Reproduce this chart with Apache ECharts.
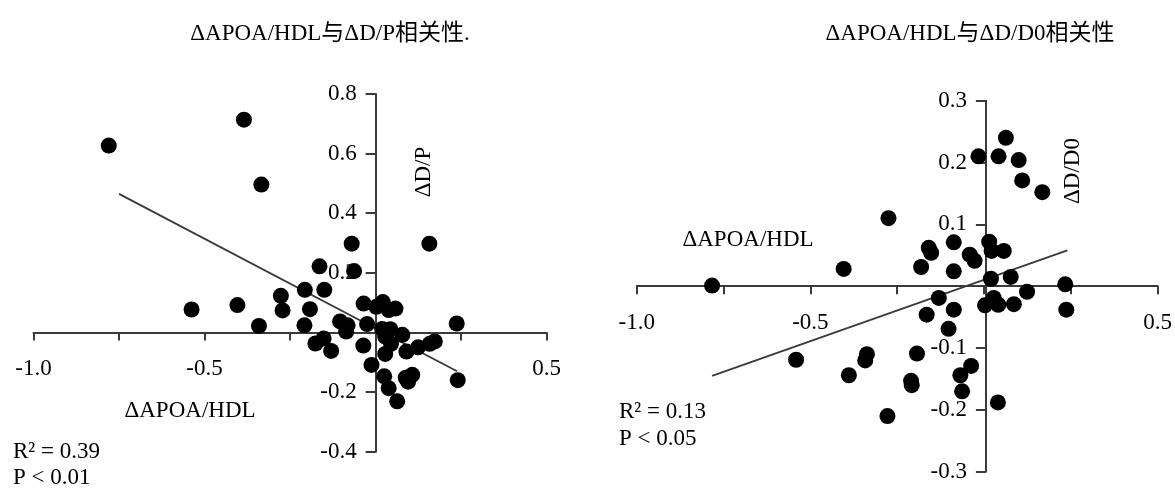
<!DOCTYPE html>
<html>
<head>
<meta charset="utf-8">
<script src="https://cdn.jsdelivr.net/npm/echarts@6/dist/echarts.min.js"></script>
<style>
  html, body { margin: 0; padding: 0; background: #fff; }
  #chart { width: 1175px; height: 490px; }
</style>
</head>
<body>
<div id="chart"></div>
<script>
// 左图 ΔAPOA/HDL 与 ΔD/P
const leftPoints = [
  [-0.78, 0.627], [-0.385, 0.714], [-0.334, 0.496], [-0.07, 0.298], [0.157, 0.298],
  [-0.164, 0.222], [-0.063, 0.206], [-0.207, 0.143], [-0.15, 0.143], [-0.277, 0.123],
  [-0.404, 0.092], [-0.538, 0.077], [-0.272, 0.074], [-0.192, 0.078], [-0.341, 0.022],
  [-0.208, 0.024], [-0.104, 0.037], [-0.082, 0.024], [-0.086, 0.003], [-0.025, 0.028],
  [-0.035, 0.097], [0.002, 0.086], [0.021, 0.102], [0.038, 0.075], [0.058, 0.08],
  [0.237, 0.03], [0.019, 0.012], [0.043, 0.011], [0.028, -0.014], [0.078, -0.008],
  [0.045, -0.038], [-0.176, -0.037], [-0.152, -0.02], [-0.13, -0.062], [-0.036, -0.044],
  [0.028, -0.072], [0.09, -0.064], [0.124, -0.05], [0.158, -0.038], [0.173, -0.03],
  [-0.012, -0.109], [0.025, -0.147], [0.038, -0.187], [0.063, -0.231], [0.088, -0.152],
  [0.107, -0.142], [0.095, -0.165], [0.24, -0.16]
]
const leftFit = [[-0.75, 0.465], [0.238, -0.13]]
const leftYLabels = ['0.8', '0.6', '0.4', '0.2', '-0.2', '-0.4']

// 右图 ΔAPOA/HDL 与 ΔD/D0
const rightPoints = [
  [-0.783, 0.001], [-0.404, 0.028], [-0.275, 0.11], [-0.181, 0.031], [-0.159, 0.062],
  [-0.152, 0.054], [-0.087, 0.071], [-0.087, 0.024], [-0.041, 0.051], [-0.027, 0.041],
  [-0.016, 0.21], [0.042, 0.21], [0.063, 0.24], [0.1, 0.204], [0.11, 0.171],
  [0.168, 0.152], [0.015, 0.072], [0.022, 0.057], [0.057, 0.057], [0.02, 0.012],
  [0.077, 0.015], [0.234, 0.003], [0.237, -0.038], [0.124, -0.009], [0.086, -0.029],
  [0.003, -0.031], [0.028, -0.019], [0.041, -0.03], [-0.13, -0.019], [-0.087, -0.038],
  [-0.165, -0.046], [-0.102, -0.069], [-0.193, -0.109], [-0.337, -0.11], [-0.342, -0.12],
  [-0.541, -0.119], [-0.389, -0.144], [-0.21, -0.153], [-0.208, -0.16], [-0.068, -0.144],
  [-0.037, -0.129], [-0.063, -0.17], [-0.278, -0.21], [0.04, -0.188]
]
const rightFit = [[-0.783, -0.145], [0.24, 0.058]]
const rightYLabels = ['0.3', '0.2', '0.1', '-0.1', '-0.2', '-0.3']

const xLabels = ['-1.0', '-0.5', '0.5']
const titles = ['ΔAPOA/HDL与ΔD/P相关性.', 'ΔAPOA/HDL与ΔD/D0相关性']
const stats = [['R² = 0.39', 'P < 0.01'], ['R² = 0.13', 'P < 0.05']]

const serif = '"Liberation Serif", "Noto Sans CJK SC", serif'
const lineColor = '#3a3a3a'
const fs = 23

const grids = [
  { left: 33.5, top: 94, width: 513.2, height: 357.7 },
  { left: 636.7, top: 100.7, width: 523.8, height: 371 }
]
const xRange = [-1, 0.5]
const yRanges = [[-0.4, 0.8], [-0.3, 0.3]]

function fmt(labels, digits) {
  return function (v) {
    const s = v.toFixed(digits)
    return labels.indexOf(s) >= 0 ? s : ''
  }
}

// 坐标轴放在 0 处（用 offset 把整条轴连同刻度、标签移过去）
function xAxisOf(idx) {
  const yr = yRanges[idx]
  const off = -(0 - yr[0]) / (yr[1] - yr[0]) * grids[idx].height
  return {
    gridIndex: idx, type: 'value', min: xRange[0], max: xRange[1], interval: 0.25,
    position: 'bottom', offset: off,
    axisLine: { onZero: false, lineStyle: { color: lineColor, width: 2 } },
    axisTick: { show: true, length: 8, lineStyle: { color: lineColor, width: 2 } },
    axisLabel: { formatter: fmt(xLabels, 1), margin: 25, color: '#000', fontSize: fs, fontFamily: serif },
    splitLine: { show: false }
  }
}

function yAxisOf(idx, interval, labels) {
  const yr = yRanges[idx]
  const off = -(0 - xRange[0]) / (xRange[1] - xRange[0]) * grids[idx].width
  return {
    gridIndex: idx, type: 'value', min: yr[0], max: yr[1], interval: interval,
    position: 'left', offset: off,
    axisLine: { show: true, onZero: false, lineStyle: { color: lineColor, width: 2 } },
    axisTick: { show: true, length: 10, lineStyle: { color: lineColor, width: 2 } },
    axisLabel: { formatter: fmt(labels, 1), margin: 19, color: '#000', fontSize: fs, fontFamily: serif },
    splitLine: { show: false }
  }
}

function textAt(x, y, text, rotate) {
  return {
    type: 'text', x: x, y: y, rotation: rotate ? Math.PI / 2 : 0,
    style: { text: text, fill: '#000', font: fs + 'px ' + serif, align: 'center', verticalAlign: 'middle' }
  }
}

function leftText(x, y, text) {
  return { type: 'text', x: x, y: y, style: { text: text, fill: '#000', font: fs + 'px ' + serif, verticalAlign: 'middle' } }
}

const chart = echarts.init(document.getElementById('chart'), null, { renderer: 'canvas' })
chart.setOption({
  animation: false,
  backgroundColor: '#fff',
  title: [
    { text: titles[0], left: 325, top: 17, textAlign: 'center',
      textStyle: { fontSize: 23, fontWeight: 'normal', color: '#000', fontFamily: serif } },
    { text: titles[1], left: 965, top: 17, textAlign: 'center',
      textStyle: { fontSize: 23, fontWeight: 'normal', color: '#000', fontFamily: serif } }
  ],
  grid: grids,
  xAxis: [xAxisOf(0), xAxisOf(1)],
  yAxis: [yAxisOf(0, 0.2, leftYLabels), yAxisOf(1, 0.1, rightYLabels)],
  series: [
    { type: 'scatter', xAxisIndex: 0, yAxisIndex: 0, data: leftPoints, symbolSize: 16,
      itemStyle: { color: '#000', opacity: 1 }, z: 3 },
    { type: 'line', xAxisIndex: 0, yAxisIndex: 0, data: leftFit, symbol: 'none',
      lineStyle: { color: lineColor, width: 1.8 }, z: 2 },
    { type: 'scatter', xAxisIndex: 1, yAxisIndex: 1, data: rightPoints, symbolSize: 16,
      itemStyle: { color: '#000', opacity: 1 }, z: 3 },
    { type: 'line', xAxisIndex: 1, yAxisIndex: 1, data: rightFit, symbol: 'none',
      lineStyle: { color: lineColor, width: 1.8 }, z: 2 }
  ],
  graphic: [
    textAt(190, 411, 'ΔAPOA/HDL'),
    textAt(424, 172, 'ΔD/P', true),
    leftText(13, 452, stats[0][0]),
    leftText(13, 478, stats[0][1]),
    textAt(748, 240, 'ΔAPOA/HDL'),
    textAt(1073, 171, 'ΔD/D0', true),
    leftText(619, 412, stats[1][0]),
    leftText(619, 439, stats[1][1])
  ]
})
</script>
</body>
</html>
